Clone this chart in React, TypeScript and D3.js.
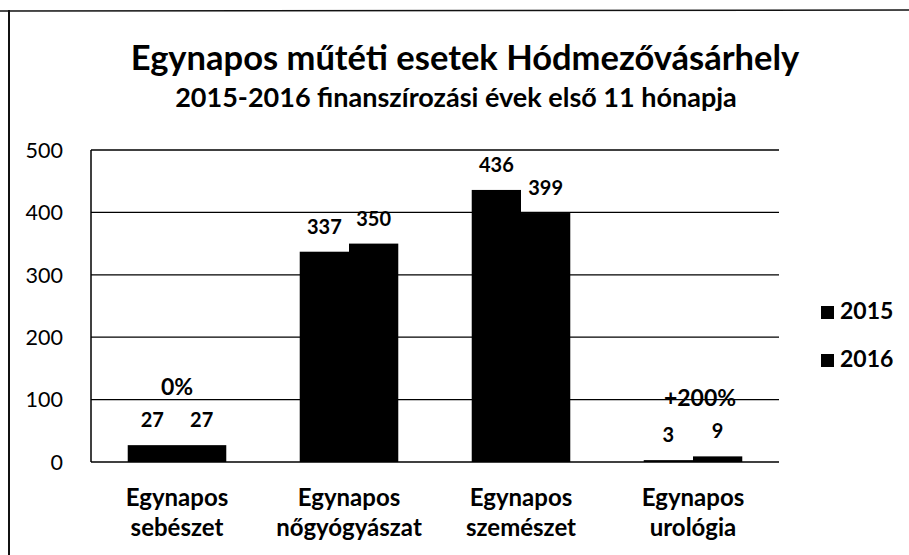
import React from "react";
import * as d3 from "d3";

const categories: string[][] = [
  ["Egynapos", "sebészet"],
  ["Egynapos", "nőgyógyászat"],
  ["Egynapos", "szemészet"],
  ["Egynapos", "urológia"],
];
const seriesNames = ["2015", "2016"];
const values2015 = [27, 337, 436, 3];
const values2016 = [27, 350, 399, 9];
const yTicks = [0, 100, 200, 300, 400, 500];
const changeLabels = ["0%", "", "", "+200%"];
const changeLabelValues = [107, 0, 0, 90];

const title = "Egynapos műtéti esetek Hódmezővásárhely";
const subtitle = "2015-2016 finanszírozási évek első 11 hónapja";

const W = 909;
const H = 555;
const FONT = "Lato, 'Open Sans', sans-serif";

export default function App() {
  const plotLeft = 91;
  const plotRight = 779;
  const plotTop = 150;
  const plotBottom = 462;

  const y = d3.scaleLinear().domain([0, 500]).range([plotBottom, plotTop]);
  const x0 = d3
    .scaleBand<number>()
    .domain(d3.range(categories.length))
    .range([plotLeft, plotRight])
    .paddingInner(0.427)
    .paddingOuter(0.2135);
  const x1 = d3
    .scaleBand<string>()
    .domain(seriesNames)
    .range([0, x0.bandwidth()]);

  const seriesValues = [values2015, values2016];

  return (
    <svg
      width={W}
      height={H}
      style={{ position: "absolute", left: 0, top: 0, background: "#fff" }}
      fontFamily={FONT}
    >
      <rect x={0} y={0} width={W} height={H} fill="#fff" />
      {/* frame */}
      <line x1={0} x2={W} y1={11} y2={10} stroke="#111" strokeWidth={1.5} />
      <line x1={9} x2={9} y1={10} y2={H} stroke="#111" strokeWidth={2} />

      {/* titles */}
      <text x={465} y={70} textAnchor="middle" fontSize={34.5} fontWeight={700} fill="#000">
        {title}
      </text>
      <text x={456} y={107} textAnchor="middle" fontSize={27} fontWeight={700} fill="#000">
        {subtitle}
      </text>

      {/* gridlines */}
      {yTicks.map((t) => (
        <line
          key={"g" + t}
          x1={plotLeft}
          x2={plotRight}
          y1={y(t)}
          y2={y(t)}
          stroke="#000"
          strokeWidth={1.3}
        />
      ))}
      {/* y axis */}
      <line x1={plotLeft} x2={plotLeft} y1={plotTop} y2={plotBottom} stroke="#000" strokeWidth={1.5} />
      {yTicks.map((t) => (
        <text
          key={"t" + t}
          x={63}
          y={y(t)}
          dy="0.36em"
          textAnchor="end"
          fontSize={21.5}
          fill="#000"
        >
          {t}
        </text>
      ))}

      {/* bars */}
      {categories.map((c, i) =>
        seriesNames.map((s, j) => {
          const v = seriesValues[j][i];
          const bx = (x0(i) as number) + (x1(s) as number);
          return (
            <g key={`b${i}-${j}`}>
              <rect
                x={bx}
                y={y(v)}
                width={x1.bandwidth()}
                height={y(0) - y(v)}
                fill="#000"
              />
              <text
                x={bx + x1.bandwidth() / 2}
                y={y(v) - 18}
                textAnchor="middle"
                fontSize={20}
                fontWeight={700}
                fill="#000"
              >
                {v}
              </text>
            </g>
          );
        })
      )}

      {/* change annotations */}
      {changeLabels.map((l, i) =>
        l ? (
          <text
            key={"c" + i}
            x={(x0(i) as number) + x0.bandwidth() / 2 + (i === 3 ? 7 : 0)}
            y={y(changeLabelValues[i])}
            textAnchor="middle"
            fontSize={23}
            fontWeight={700}
            fill="#000"
          >
            {l}
          </text>
        ) : null
      )}

      {/* category labels */}
      {categories.map((c, i) => (
        <text
          key={"cat" + i}
          x={(x0(i) as number) + x0.bandwidth() / 2}
          y={506}
          textAnchor="middle"
          fontSize={24}
          fontWeight={700}
          fill="#000"
        >
          {c.map((line, k) => (
            <tspan key={k} x={(x0(i) as number) + x0.bandwidth() / 2} dy={k === 0 ? 0 : 30}>
              {line}
            </tspan>
          ))}
        </text>
      ))}

      {/* legend */}
      {seriesNames.map((s, j) => (
        <g key={"l" + s} transform={`translate(821, ${306 + j * 48})`}>
          <rect x={0} y={0} width={13} height={13} fill="#000" />
          <text x={19} y={13} fontSize={23} fontWeight={700} fill="#000">
            {s}
          </text>
        </g>
      ))}
    </svg>
  );
}
